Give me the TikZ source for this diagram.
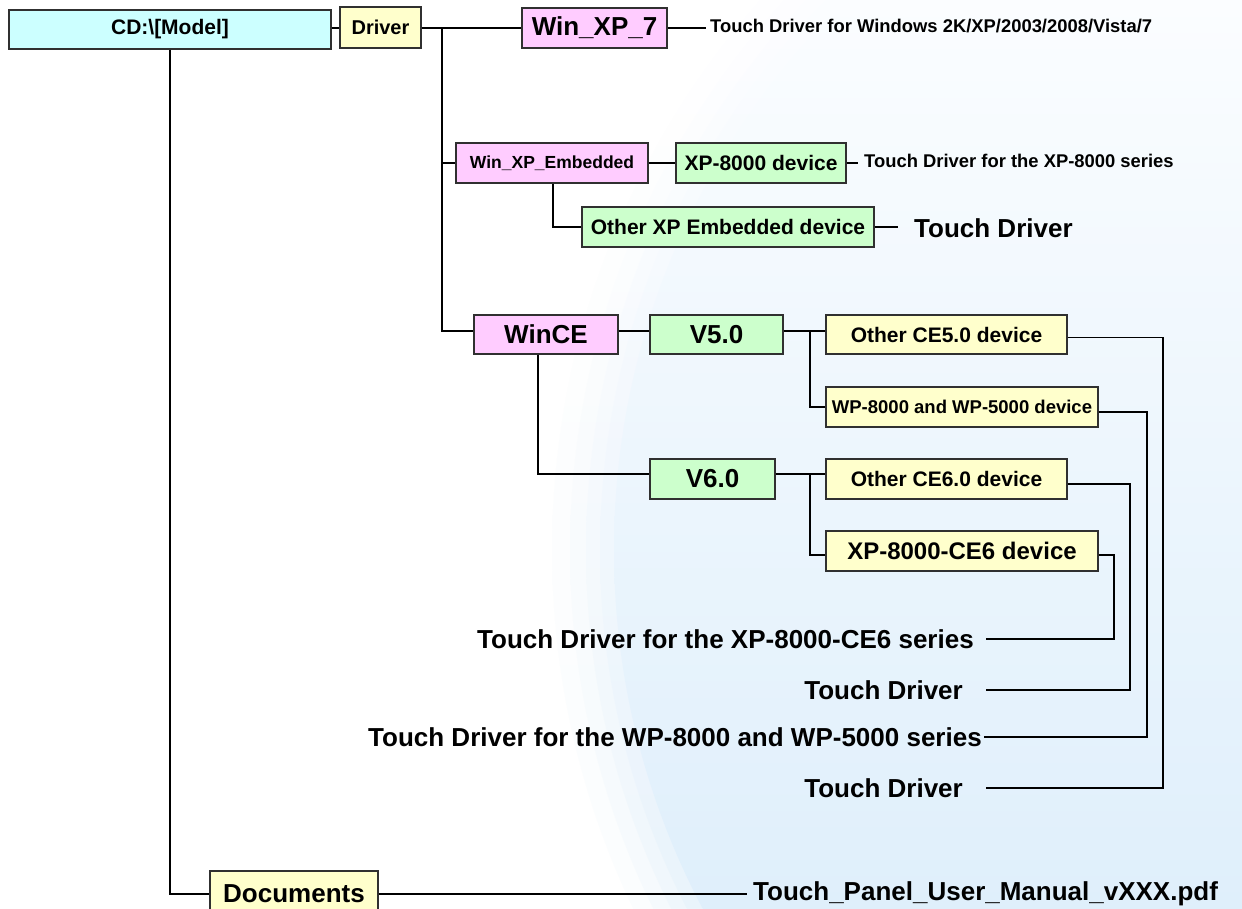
\documentclass[tikz,border=0pt]{standalone}
\usepackage{fontspec}
\setmainfont{Liberation Sans}
\definecolor{cdc}{HTML}{CCFFFF}
\definecolor{yel}{HTML}{FFFFCC}
\definecolor{pnk}{HTML}{FFCCFF}
\definecolor{grn}{HTML}{CCFFCC}
\definecolor{boxline}{HTML}{303030}
\definecolor{bgtop}{RGB}{251,253,255}
\definecolor{bgbot}{RGB}{223,239,251}
\newcommand\fsz[1]{\fontsize{#1}{#1}\selectfont\bfseries}
\tikzset{
  box/.style={draw=boxline, line width=1.2pt, inner sep=0pt},
  lbl/.style={inner ysep=0pt},
  conn/.style={line width=1.4pt, black},
}
\begin{document}
\begin{tikzpicture}[x=1pt,y=-1pt]
\clip (0,0) rectangle (1242,908);
\fill[white] (0,0) rectangle (1242,908);
% background with a soft left edge
\foreach \r/\o in {830/0.12, 812/0.18, 796/0.25, 782/0.35, 768/1} {
  \begin{scope}
    \clip (1382,550) circle [radius=\r pt];
    \shade[top color=bgtop, bottom color=bgbot, opacity=\o] (500,0) rectangle (1242,908);
  \end{scope}
}

% boxes
\node[box, fill=cdc, minimum width=322pt, minimum height=39pt, font=\fsz{21}] (cd) at (170,29.5) {CD:\textbackslash[Model]};
\node[box, fill=yel, minimum width=81pt, minimum height=41pt, font=\fsz{20}] (drv) at (380.5,27.5) {Driver};
\node[box, fill=pnk, minimum width=145pt, minimum height=40pt, font=\fsz{26}] (wxp7) at (594.5,28) {Win\_XP\_7};
\node[box, fill=pnk, minimum width=192pt, minimum height=40pt, font=\fsz{17.5}] (wxpe) at (552,163) {Win\_XP\_Embedded};
\node[box, fill=grn, minimum width=170pt, minimum height=40pt, font=\fsz{21}] (xp8k) at (761,163) {XP-8000 device};
\node[box, fill=grn, minimum width=292pt, minimum height=40pt, font=\fsz{21}] (oxp) at (728,227) {Other XP Embedded device};
\node[box, fill=pnk, minimum width=144pt, minimum height=39pt, font=\fsz{26}] (wince) at (546,334.5) {WinCE};
\node[box, fill=grn, minimum width=133pt, minimum height=39pt, font=\fsz{26}] (v5) at (716.5,334.5) {V5.0};
\node[box, fill=grn, minimum width=125pt, minimum height=40pt, font=\fsz{26}] (v6) at (712.5,479) {V6.0};
\node[box, fill=yel, minimum width=241pt, minimum height=39pt, font=\fsz{21}] (ce5) at (946.5,334.5) {Other CE5.0 device};
\node[box, fill=yel, minimum width=272pt, minimum height=40pt, font=\fsz{18.5}] (wp) at (962,407) {WP-8000 and WP-5000 device};
\node[box, fill=yel, minimum width=241pt, minimum height=40pt, font=\fsz{21}] (ce6) at (946.5,479) {Other CE6.0 device};
\node[box, fill=yel, minimum width=272pt, minimum height=40pt, font=\fsz{24}] (xpce6) at (962,551) {XP-8000-CE6 device};
\node[box, fill=yel, minimum width=168pt, minimum height=46pt, font=\fsz{26}] (docs) at (294,894) {Documents};

% labels
\node[lbl, inner xsep=4pt, anchor=west, font=\fsz{18.4}] (t1) at (706,26) {Touch Driver for Windows 2K/XP/2003/2008/Vista/7};
\node[lbl, inner xsep=6pt, anchor=west, font=\fsz{18.4}] (t2) at (858,161) {Touch Driver for the XP-8000 series};
\node[lbl, inner xsep=16pt, anchor=west, font=\fsz{26}] (t3) at (898,228) {Touch Driver};
\node[lbl, inner xsep=12pt, anchor=east, font=\fsz{26}] (b1) at (986,639) {Touch Driver for the XP-8000-CE6 series};
\node[lbl, inner xsep=23pt, anchor=east, font=\fsz{26}] (b2) at (986,690) {Touch Driver};
\node[lbl, inner xsep=2pt, anchor=east, font=\fsz{26}] (b3) at (984,737) {Touch Driver for the WP-8000 and WP-5000 series};
\node[lbl, inner xsep=23pt, anchor=east, font=\fsz{26}] (b4) at (986,788) {Touch Driver};
\node[lbl, inner xsep=6pt, anchor=west, font=\fsz{26}] (pdf) at (747,894) {Touch\_Panel\_User\_Manual\_vXXX.pdf};

% junction coordinates
\coordinate (trk) at (442,28);
\coordinate (j5) at (810,331);
\coordinate (j6) at (810,474);
\coordinate (k1) at (1114,639);
\coordinate (k2) at (1130,690);
\coordinate (k3) at (1147,737);
\coordinate (k4) at (1163,788);

% connectors
\draw[conn] (cd.east |- trk) -- (drv.west |- trk);
\draw[conn] (drv.east |- trk) -- (wxp7.west |- trk);
\draw[conn] (trk) |- (wince.west |- j5);
\draw[conn] (trk |- wxpe.west) -- (wxpe.west);
\draw[conn] (wxp7.east) -- (wxp7.east -| t1.west);
\draw[conn] (wxpe.east) -- (xp8k.west);
\draw[conn] (xp8k.east) -- (xp8k.east -| t2.west);
\draw[conn] ([xshift=1pt]wxpe.south) |- (oxp.west);
\draw[conn] (oxp.east) -- (oxp.east -| t3.west);
\draw[conn] (wince.east |- j5) -- (v5.west |- j5);
\draw[conn] (v5.east |- j5) -- (ce5.west |- j5);
\draw[conn] (j5) |- (wp.west);
\draw[conn] ([xshift=-8pt]wince.south) |- (v6.west |- j6);
\draw[conn] (v6.east |- j6) -- (ce6.west |- j6);
\draw[conn] (j6) |- ([yshift=-4pt]xpce6.west);
\draw[conn] ([yshift=-3pt]ce5.east) -| (k4) -- (b4.east);
\draw[conn] ([yshift=-5pt]wp.east) -| (k3) -- (b3.east);
\draw[conn] ([yshift=-5pt]ce6.east) -| (k2) -- (b2.east);
\draw[conn] ([yshift=-4pt]xpce6.east) -| (k1) -- (b1.east);
\draw[conn] (cd.south) |- (docs.west);
\draw[conn] (docs.east) -- (pdf.west);
\end{tikzpicture}
\end{document}
